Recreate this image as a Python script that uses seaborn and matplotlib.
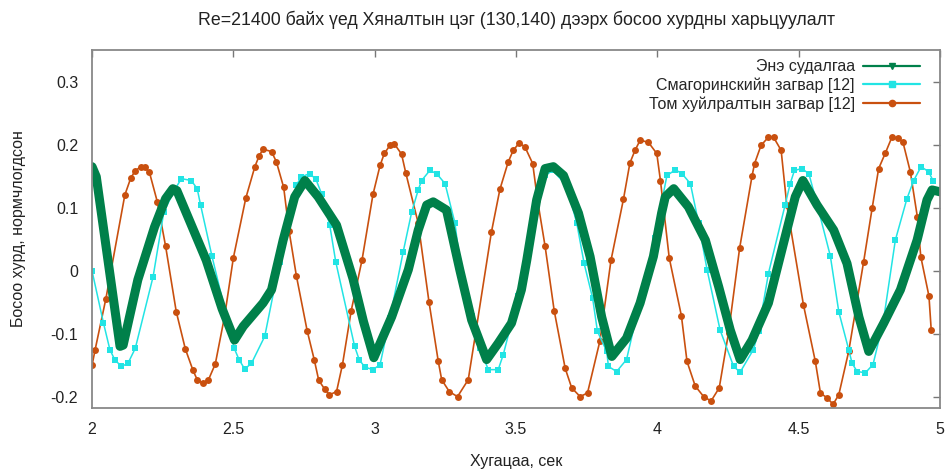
import numpy as np
import pandas as pd
import matplotlib
matplotlib.use("Agg")
import matplotlib.pyplot as plt
from matplotlib.lines import Line2D
import seaborn as sns

# Data (time in s, normalized vertical velocity)
green_t = [2.000, 2.015, 2.099, 2.110, 2.162, 2.221, 2.260, 2.286, 2.300, 2.404,
           2.460, 2.504, 2.535, 2.605, 2.635, 2.676, 2.717, 2.753, 2.800, 2.865,
           2.923, 2.960, 2.997, 3.060, 3.119, 3.154, 3.184, 3.207, 3.254, 3.301,
           3.343, 3.396, 3.437, 3.484, 3.519, 3.538, 3.573, 3.603, 3.632, 3.668,
           3.721, 3.762, 3.803, 3.839, 3.891, 3.939, 3.986, 4.015, 4.028, 4.058,
           4.110, 4.170, 4.217, 4.258, 4.293, 4.335, 4.393, 4.452, 4.488, 4.515,
           4.565, 4.624, 4.671, 4.713, 4.748, 4.801, 4.860, 4.919, 4.954, 4.972,
           5.000]
green_v = [0.166, 0.150, -0.120, -0.118, -0.014, 0.070, 0.115, 0.131, 0.128, 0.017,
           -0.060, -0.110, -0.088, -0.051, -0.030, 0.049, 0.118, 0.144, 0.118, 0.073,
           -0.012, -0.080, -0.138, -0.073, 0.002, 0.065, 0.105, 0.110, 0.097, 0.002,
           -0.078, -0.141, -0.115, -0.083, -0.030, 0.017, 0.113, 0.163, 0.166, 0.152,
           0.092, 0.023, -0.073, -0.136, -0.107, -0.051, 0.023, 0.092, 0.118, 0.131,
           0.102, 0.049, -0.025, -0.094, -0.141, -0.110, -0.051, 0.054, 0.118, 0.144,
           0.105, 0.065, 0.012, -0.073, -0.128, -0.083, -0.030, 0.049, 0.113, 0.129,
           0.126]

cyan_t = [2.000, 2.040, 2.063, 2.080, 2.104, 2.127, 2.153, 2.216, 2.254, 2.292,
          2.316, 2.351, 2.372, 2.384, 2.424, 2.502, 2.520, 2.540, 2.564, 2.611,
          2.664, 2.706, 2.723, 2.741, 2.770, 2.792, 2.812, 2.841, 2.862, 2.929,
          2.945, 2.965, 2.994, 3.019, 3.054, 3.101, 3.131, 3.154, 3.166, 3.195,
          3.219, 3.249, 3.284, 3.307, 3.343, 3.372, 3.402, 3.437, 3.455, 3.508,
          3.568, 3.603, 3.630, 3.679, 3.715, 3.741, 3.771, 3.788, 3.821, 3.827,
          3.856, 3.891, 3.933, 3.990, 4.034, 4.064, 4.087, 4.117, 4.146, 4.176,
          4.222, 4.270, 4.293, 4.340, 4.358, 4.393, 4.452, 4.470, 4.485, 4.511,
          4.536, 4.563, 4.612, 4.642, 4.677, 4.689, 4.707, 4.736, 4.763, 4.799,
          4.842, 4.883, 4.907, 4.933, 4.960, 4.975]
cyan_v = [0.000, -0.082, -0.125, -0.141, -0.152, -0.147, -0.123, -0.009, 0.094, 0.129,
          0.147, 0.144, 0.131, 0.105, 0.024, -0.122, -0.141, -0.156, -0.147, -0.104,
          0.015, 0.097, 0.137, 0.150, 0.155, 0.146, 0.123, 0.073, 0.015, -0.120,
          -0.141, -0.153, -0.157, -0.149, -0.075, 0.031, 0.094, 0.129, 0.144, 0.160,
          0.155, 0.139, 0.076, -0.006, -0.071, -0.123, -0.157, -0.157, -0.133, -0.040,
          0.105, 0.152, 0.160, 0.136, 0.076, 0.012, -0.043, -0.096, -0.128, -0.152,
          -0.160, -0.141, -0.059, 0.052, 0.152, 0.161, 0.155, 0.139, 0.076, 0.002,
          -0.094, -0.152, -0.161, -0.125, -0.096, -0.004, 0.105, 0.139, 0.160, 0.163,
          0.155, 0.110, 0.024, -0.065, -0.125, -0.147, -0.160, -0.162, -0.149, -0.082,
          0.049, 0.115, 0.144, 0.166, 0.158, 0.144]

orange_t = [2.000, 2.011, 2.049, 2.116, 2.137, 2.152, 2.172, 2.186, 2.203, 2.231,
            2.260, 2.298, 2.330, 2.357, 2.372, 2.392, 2.411, 2.436, 2.469, 2.500,
            2.544, 2.576, 2.591, 2.605, 2.635, 2.652, 2.678, 2.697, 2.723, 2.761,
            2.786, 2.802, 2.823, 2.840, 2.865, 2.886, 2.917, 2.955, 2.994, 3.019,
            3.034, 3.054, 3.070, 3.095, 3.110, 3.154, 3.192, 3.225, 3.237, 3.264,
            3.293, 3.331, 3.357, 3.413, 3.443, 3.472, 3.490, 3.512, 3.532, 3.559,
            3.576, 3.603, 3.635, 3.674, 3.697, 3.727, 3.753, 3.797, 3.836, 3.880,
            3.903, 3.921, 3.939, 3.968, 3.998, 4.011, 4.042, 4.085, 4.105, 4.134,
            4.164, 4.190, 4.219, 4.252, 4.291, 4.335, 4.344, 4.367, 4.393, 4.411,
            4.438, 4.458, 4.517, 4.559, 4.577, 4.600, 4.622, 4.642, 4.677, 4.730,
            4.760, 4.783, 4.807, 4.830, 4.850, 4.869, 4.895, 4.920, 4.932, 4.961,
            4.969]
orange_v = [-0.150, -0.125, -0.044, 0.121, 0.148, 0.159, 0.166, 0.165, 0.157, 0.110,
            0.040, -0.065, -0.124, -0.158, -0.173, -0.179, -0.174, -0.148, -0.072, 0.021,
            0.116, 0.166, 0.183, 0.194, 0.190, 0.174, 0.133, 0.064, -0.008, -0.095,
            -0.141, -0.174, -0.188, -0.197, -0.192, -0.149, -0.063, 0.017, 0.122, 0.168,
            0.187, 0.200, 0.202, 0.186, 0.156, 0.076, -0.049, -0.144, -0.173, -0.192,
            -0.200, -0.173, -0.099, 0.062, 0.130, 0.173, 0.192, 0.204, 0.197, 0.171,
            0.113, 0.039, -0.063, -0.155, -0.186, -0.200, -0.194, -0.111, 0.017, 0.114,
            0.172, 0.192, 0.208, 0.205, 0.187, 0.144, 0.021, -0.071, -0.144, -0.183,
            -0.200, -0.207, -0.186, -0.098, 0.036, 0.151, 0.171, 0.200, 0.213, 0.213,
            0.192, 0.105, -0.054, -0.144, -0.194, -0.202, -0.212, -0.197, -0.128, 0.015,
            0.100, 0.163, 0.188, 0.213, 0.212, 0.205, 0.158, 0.086, 0.023, -0.040,
            -0.094]

labels = ["Энэ судалгаа", "Смагоринскийн загвар [12]", "Том хуйлралтын загвар [12]"]
colors = ["#00804a", "#22e4e4", "#c9500f"]

x_ticks = [2, 2.5, 3, 3.5, 4, 4.5, 5]
x_ticklabels = ["2", "2.5", "3", "3.5", "4", "4.5", "5"]
y_ticks = [-0.2, -0.1, 0, 0.1, 0.2, 0.3]
y_ticklabels = ["-0.2", "-0.1", "0", "0.1", "0.2", "0.3"]

sns.set_theme(style="white")
plt.rcParams["font.family"] = ["Liberation Sans", "DejaVu Sans"]

df_green = pd.DataFrame({"t": green_t, "v": green_v})
df_cyan = pd.DataFrame({"t": cyan_t, "v": cyan_v})
df_orange = pd.DataFrame({"t": orange_t, "v": orange_v})

fig = plt.figure(figsize=(9.49, 4.70), dpi=100)
ax = fig.add_axes([0.097, 0.132, 0.8935, 0.762])

sns.lineplot(data=df_orange, x="t", y="v", ax=ax, color=colors[2], lw=1.2,
             marker="o", markersize=5, markeredgewidth=0, estimator=None, sort=False)
sns.lineplot(data=df_cyan, x="t", y="v", ax=ax, color=colors[1], lw=1.1,
             marker="s", markersize=5, markeredgewidth=0, estimator=None, sort=False)
sns.lineplot(data=df_green, x="t", y="v", ax=ax, color=colors[0], lw=6.5,
             estimator=None, sort=False, solid_capstyle="round", solid_joinstyle="round")

ax.set_xlim(2, 5)
ax.set_ylim(-0.218, 0.352)
ax.set_xticks(x_ticks)
ax.set_xticklabels(x_ticklabels)
ax.set_yticks(y_ticks)
ax.set_yticklabels(y_ticklabels)
ax.tick_params(direction="in", length=5, width=1, color="#777777",
               top=True, right=True, labelsize=11.5, pad=10, labelcolor="#222222")
for s in ax.spines.values():
    s.set_color("#888888")
    s.set_linewidth(1.3)

ax.set_xlabel("Хугацаа, сек", fontsize=11.5, color="#222222", labelpad=12)
ax.set_ylabel("Босоо хурд, нормчлогдсон", fontsize=11.5, color="#222222", labelpad=18)
ax.set_title("Re=21400 байх үед Хяналтын цэг (130,140) дээрх босоо хурдны харьцуулалт",
             fontsize=12.8, color="#222222", pad=18)

handles = [Line2D([], [], color=colors[0], lw=1.6, marker="v", markersize=5),
           Line2D([], [], color=colors[1], lw=1.6, marker="s", markersize=5),
           Line2D([], [], color=colors[2], lw=1.6, marker="o", markersize=4.5)]
ax.legend(handles, labels, loc="upper right", markerfirst=False, frameon=False,
          fontsize=11.5, handlelength=3.6, handletextpad=0.5, labelspacing=0.2,
          borderaxespad=0.3, bbox_to_anchor=(0.99, 1.005))

fig.savefig("out.png", dpi=100)
